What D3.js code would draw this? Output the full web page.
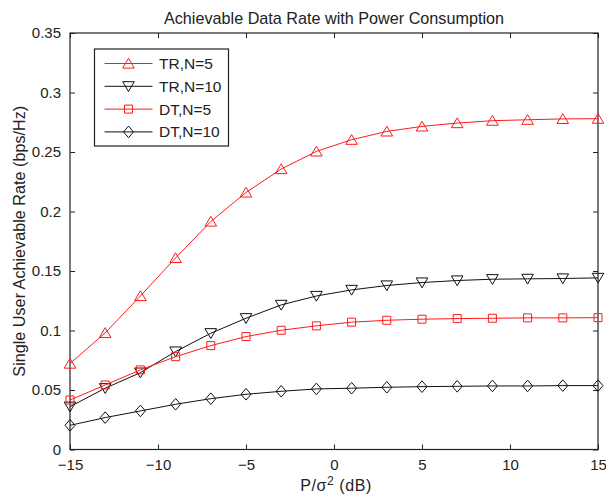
<!DOCTYPE html>
<html>
<head>
<meta charset="utf-8">
<script src="https://cdn.jsdelivr.net/npm/d3@7"></script>
<style>
  body { margin: 0; background: #fff; }
  svg { display: block; font-family: "Liberation Sans", Arial, sans-serif; }
  .tick-label { font-size: 15px; fill: #222; }
</style>
</head>
<body>
<div id="plot"></div>
<script>
// data
const xValues = [-15, -13, -11, -9, -7, -5, -3, -1, 1, 3, 5, 7, 9, 11, 13, 15],
    trN5  = [0.0722, 0.098, 0.129, 0.161, 0.1916, 0.216, 0.2357, 0.2505, 0.2603, 0.2673, 0.2715, 0.2743, 0.2763, 0.2771, 0.2778, 0.278],
    trN10 = [0.036, 0.0515, 0.0646, 0.0823, 0.0977, 0.1103, 0.1215, 0.129, 0.1341, 0.1378, 0.1403, 0.142, 0.1431, 0.1434, 0.1437, 0.1442],
    dtN5  = [0.0416, 0.0542, 0.0669, 0.078, 0.0873, 0.0949, 0.1002, 0.1039, 0.107, 0.1086, 0.1095, 0.11, 0.1103, 0.1106, 0.1106, 0.1108],
    dtN10 = [0.0203, 0.0268, 0.0324, 0.038, 0.0427, 0.0464, 0.0489, 0.0509, 0.0515, 0.0523, 0.0528, 0.0531, 0.0534, 0.0534, 0.0537, 0.0537],
    seriesNames = ["TR,N=5", "TR,N=10", "DT,N=5", "DT,N=10"],
    xTicks = [-15, -10, -5, 0, 5, 10, 15],
    yTicks = [0, 0.05, 0.1, 0.15, 0.2, 0.25, 0.3, 0.35],
    yTickLabels = ["0", "0.05", "0.1", "0.15", "0.2", "0.25", "0.3", "0.35"]

const w = 606,
    h = 499,
    margin = {top: 33, right: 8, bottom: 49.5, left: 70},
    red = "#ff1a1a",
    black = "#111",
    x = d3.scaleLinear()
      .domain([-15, 15])
      .range([margin.left, w - margin.right]),
    y = d3.scaleLinear()
      .domain([0, 0.35])
      .range([h - margin.bottom, margin.top])

// marker shapes, centred on the point
const markers = {
  up: "M0,-5.2 L5.8,4.6 L-5.8,4.6 Z",
  down: "M0,5.2 L5.8,-4.6 L-5.8,-4.6 Z",
  square: "M-4,-4 H4 V4 H-4 Z",
  diamond: "M0,-5.8 L5,0 L0,5.8 L-5,0 Z"
}

const series = [
  {name: seriesNames[0], values: trN5, color: red, marker: "up"},
  {name: seriesNames[1], values: trN10, color: black, marker: "down"},
  {name: seriesNames[2], values: dtN5, color: red, marker: "square"},
  {name: seriesNames[3], values: dtN10, color: black, marker: "diamond"}
]

const svg = d3.select("#plot").append("svg")
  .attr("width", w)
  .attr("height", h)

// bottom axis, ticks inward
svg.append("g")
  .attr("transform", `translate(0, ${y(0)})`)
  .call(d3.axisBottom(x).tickValues(xTicks).tickSizeInner(-5).tickSizeOuter(0).tickPadding(10))
  .call(g => g.selectAll("text").attr("class", "tick-label").attr("fill", null))

// top axis (ticks only)
svg.append("g")
  .attr("transform", `translate(0, ${y(0.35)})`)
  .call(d3.axisTop(x).tickValues(xTicks).tickSizeInner(-5).tickSizeOuter(0).tickFormat(""))

// left axis
svg.append("g")
  .attr("transform", `translate(${x(-15)}, 0)`)
  .call(d3.axisLeft(y).tickValues(yTicks).tickSizeInner(-5).tickSizeOuter(0).tickPadding(9)
    .tickFormat((d, i) => yTickLabels[i]))
  .call(g => g.selectAll("text").attr("class", "tick-label").attr("fill", null))

// right axis (ticks only)
svg.append("g")
  .attr("transform", `translate(${x(15)}, 0)`)
  .call(d3.axisRight(y).tickValues(yTicks).tickSizeInner(-5).tickSizeOuter(0).tickFormat(""))

svg.selectAll(".domain").remove()
svg.selectAll(".tick line").attr("stroke", "#222")

// frame
svg.append("rect")
  .attr("x", x(-15))
  .attr("y", y(0.35))
  .attr("width", x(15) - x(-15))
  .attr("height", y(0) - y(0.35))
  .attr("fill", "none")
  .attr("stroke", "#222")
  .attr("stroke-width", 1.2)

const line = d3.line()
  .x((d, i) => x(xValues[i]))
  .y(d => y(d))

const lineLayer = svg.append("g")

series.forEach(s => {
  lineLayer.append("path")
    .datum(s.values)
    .attr("fill", "none")
    .attr("stroke", s.color)
    .attr("stroke-width", 1)
    .attr("d", line)

  lineLayer.selectAll(null)
    .data(s.values)
    .join("path")
      .attr("d", markers[s.marker])
      .attr("transform", (d, i) => `translate(${x(xValues[i])}, ${y(d)})`)
      .attr("fill", "none")
      .attr("stroke", s.color)
      .attr("stroke-width", 1)
})

// legend
const legend = svg.append("g")
  .attr("transform", "translate(94.5, 49)")

legend.append("rect")
  .attr("width", 134)
  .attr("height", 97)
  .attr("fill", "#fff")
  .attr("stroke", "#222")
  .attr("stroke-width", 1.2)

series.forEach((s, i) => {
  const row = legend.append("g")
    .attr("transform", `translate(0, ${14.5 + i * 22.8})`)
  row.append("line")
    .attr("x1", 10)
    .attr("x2", 58)
    .attr("stroke", s.color)
  row.append("path")
    .attr("d", markers[s.marker])
    .attr("transform", "translate(34, 0)")
    .attr("fill", "none")
    .attr("stroke", s.color)
  row.append("text")
    .attr("x", 64.5)
    .attr("dy", "0.36em")
    .style("font-size", "15.5px")
    .attr("fill", "#222")
    .text(s.name)
})

// title
svg.append("text")
  .attr("x", (x(-15) + x(15)) / 2)
  .attr("y", 24)
  .style("text-anchor", "middle")
  .style("font-size", "16.2px")
  .attr("fill", "#222")
  .text("Achievable Data Rate with Power Consumption")

// x axis label
const xLab = svg.append("text")
  .attr("x", (x(-15) + x(15)) / 2 + 2)
  .attr("y", 491)
  .style("text-anchor", "middle")
  .style("font-size", "16px")
  .style("letter-spacing", "0.6px")
  .attr("fill", "#222")
xLab.append("tspan").text("P/σ")
xLab.append("tspan").attr("dy", -6).style("font-size", "12px").text("2")
xLab.append("tspan").attr("dy", 6).text(" (dB)")

// y axis label
svg.append("text")
  .attr("transform", `translate(25, ${(y(0) + y(0.35)) / 2}) rotate(-90)`)
  .style("text-anchor", "middle")
  .style("font-size", "16.2px")
  .attr("fill", "#222")
  .text("Single User Achievable Rate (bps/Hz)")
</script>
</body>
</html>
